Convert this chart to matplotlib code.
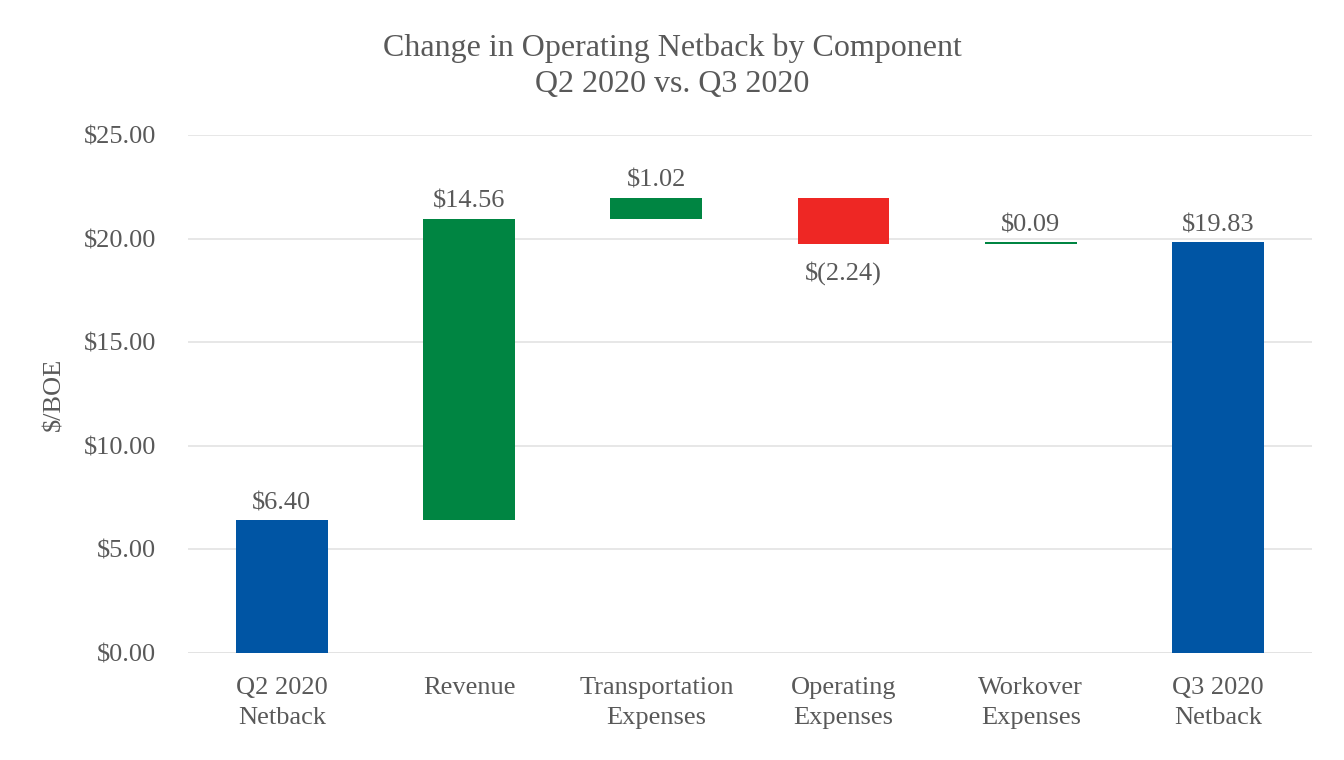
import numpy as np
import matplotlib.pyplot as plt

# Data
categories = ["Q2 2020\nNetback", "Revenue", "Transportation\nExpenses",
              "Operating\nExpenses", "Workover\nExpenses", "Q3 2020\nNetback"]
changes = [6.40, 14.56, 1.02, -2.24, 0.09, 19.83]
kinds = ["total", "delta", "delta", "delta", "delta", "total"]

blue = "#0055A4"
green = "#008542"
red = "#EE2724"
text_col = "#595959"

plt.rcParams['font.family'] = ['Liberation Serif', 'DejaVu Serif']

fig = plt.figure(figsize=(13.44, 7.6), dpi=100)
ax = fig.add_axes([0.14, 0.1408, 0.836, 0.6812])

x = np.arange(len(categories))
running = 0.0
for i, (val, kind) in enumerate(zip(changes, kinds)):
    if kind == "total":
        bottom, height = 0, val
        color = blue
        running = val
    else:
        bottom = running if val >= 0 else running + val
        height = abs(val)
        color = green if val >= 0 else red
        running += val
    ax.bar(x[i], height, bottom=bottom, width=0.49, color=color, zorder=3)
    if val >= 0:
        ax.text(x[i], bottom + height + 0.3, f"${val:.2f}", ha="center", va="bottom",
                fontsize=19, color=text_col)
    else:
        ax.text(x[i], bottom - 0.8, f"$({abs(val):.2f})", ha="center", va="top",
                fontsize=19, color=text_col)

ax.set_xlim(-0.5, 5.5)
ax.set_ylim(0, 25)
ax.set_yticks(np.arange(0, 26, 5))
ax.set_yticklabels([f"${v:.2f}" for v in np.arange(0, 26, 5)])
ax.set_xticks(x)
ax.set_xticklabels(categories, linespacing=1.5)
ax.tick_params(axis="both", length=0, labelsize=19, colors=text_col)
ax.tick_params(axis="x", pad=17)
ax.tick_params(axis="y", pad=23)
ax.grid(axis="y", color="#E3E3E3", linewidth=1.2, zorder=0)
for s in ax.spines.values():
    s.set_visible(False)
ax.axhline(0, color="#E3E3E3", linewidth=1.2, zorder=1)

ax.set_ylabel("$/BOE", fontsize=19, color=text_col, labelpad=13)
fig.text(0.5, 0.913, "Change in Operating Netback by Component\nQ2 2020 vs. Q3 2020",
         ha="center", va="center", fontsize=23, color=text_col, linespacing=1.3)

fig.savefig("out.png", dpi=100)
